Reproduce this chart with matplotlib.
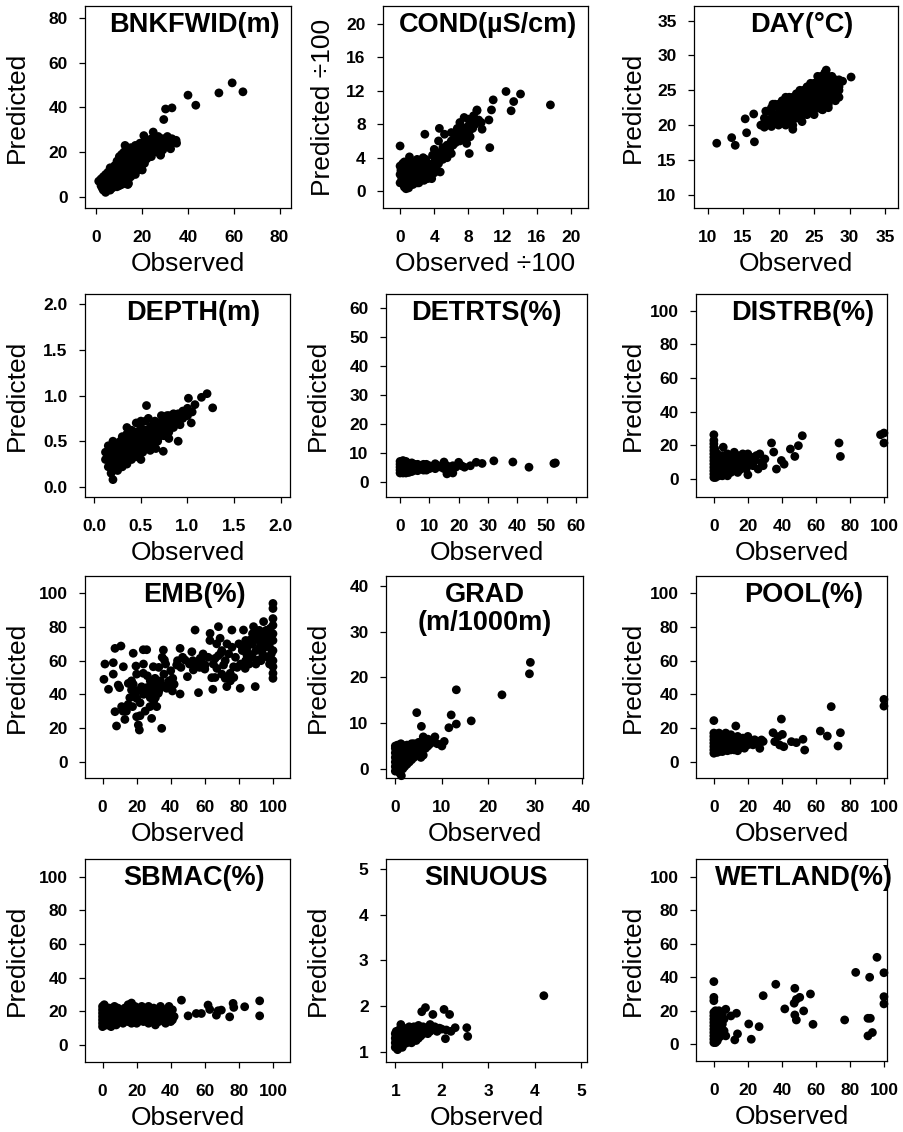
import numpy as np
import matplotlib.pyplot as plt

plt.rcParams['font.family'] = ['Liberation Sans', 'DejaVu Sans']

# observed / predicted pairs, one list per variable
bnkfwid = [(1,7),(2,5),(2,8),(3,3),(3,6),(3,9),(4,2),(4,5),(4,7),(4,10),(5,4),(5,6),(5,8),(5,11),
           (6,3),(6,6),(6,9),(6,13),(7,4),(7,7),(7,10),(7,12),(8,5),(8,8),(8,11),(8,14),(9,6),(9,9),
           (9,13),(9,16),(10,5),(10,8),(10,11),(10,15),(10,18),(11,7),(11,10),(11,13),(11,17),(12,6),
           (12,9),(12,12),(12,16),(12,20),(13,8),(13,11),(13,14),(13,18),(13,21),(14,6),(14,10),
           (14,13),(14,16),(14,19),(15,9),(15,12),(15,15),(15,18),(15,22),(16,11),(16,14),(16,17),
           (16,20),(17,10),(17,13),(17,16),(17,19),(17,23),(18,12),(18,15),(18,18),(18,21),(19,14),
           (19,17),(19,20),(19,24),(20,12),(20,16),(20,19),(20,22),(21,15),(21,18),(21,21),(21,25),
           (22,17),(22,20),(22,23),(23,19),(23,22),(24,18),(24,21),(24,26),(25,20),(25,23),(26,22),
           (26,25),(27,20),(27,24),(28,19),(28,22),(29,23),(29,26),(30,25),(31,27),(32,24),(33,26),
           (34,25),(35,24),(20.7,27.4),(24.8,29),(28,18.6),(32.4,21.5),(34.8,25.3),(29.4,34.6),
           (30.2,39.3),(33,39.8),(40,45.5),(43.4,41),(53.5,46.5),(59.3,51),(64,47),(13.7,5.5),
           (19.8,12.2),(12.5,23),
           (2.5,4),(3.5,4.5),(4.5,3.5),(5.5,7),(6.5,5),(7.5,8.5),(8.5,6.5),(9.5,11),(10.5,9.5),
           (11.5,12),(12.5,14),(13.5,16),(14.5,12),(15.5,17),(16.5,15),(17.5,18),(18.5,20),(19.5,16),
           (20.5,21),(21.5,19),(22.5,22),(23.5,20),(24.5,24),(25.5,22),(26.5,24),(27.5,22),(29,21),
           (30,23),(31,25),(6,10.5),(8,12.5),(10,13),(11,19),(13,16),(15,20),(17,21),(19,22),
           (16,12.5),(18,13.5),(9,4.5),(11,5.5),(12,10.5),(14,8),(7,5.5),(5,3),(3,4.5),(23,24),
           (25,25),(27,27),(22,25),(21,23.5)]

cond = [(0,1),(0,2),(0,3),(0.2,1.5),(0.2,2.5),(0.3,3.3),(0.5,0.5),(0.5,1.5),(0.5,2.5),(0.5,3.5),
        (0.7,0.3),(0.8,1),(0.8,2),(0.8,3),(1,0.8),(1,1.6),(1,2.4),(1,3.2),(1.2,1.2),(1.3,2),(1.3,2.8),
        (1.5,0.8),(1.5,1.6),(1.5,2.4),(1.6,3.4),(1.8,1.2),(1.8,2),(1.8,3),(2,1.5),(2,2.5),(2,3.8),
        (2.2,1),(2.3,2),(2.3,3),(2.5,1.6),(2.5,2.6),(2.6,3.6),(2.8,1.3),(2.8,2.2),(3,1.8),(3,2.9),
        (3,3.8),(3.2,1.5),(3.3,2.5),(3.5,2),(3.5,3.2),(3.7,1.5),(3.8,2.6),(4,2.2),(4,3.5),(4,5),
        (4.2,4.2),(4.3,2.5),(4.5,3.3),(4.5,6),(4.7,2.3),(4.8,4),(5,3.8),(5,5.2),(5.2,4.5),(5.5,4),
        (5.5,5.5),(5.8,5),(6,4.5),(6,6),(6,7),(6.2,5.5),(6.5,5.8),(6.5,6.8),(6.7,7.5),(7,6),(7,7),
        (7,8.2),(7.2,6.5),(7.3,7.6),(7.5,8.8),(7.5,6.2),(7.8,7),(8,7.8),(8,8.6),(8.2,6.5),(8.3,8.2),
        (8.5,7.5),(8.6,9),(8.8,8),(9,9.6),(9.2,8.5),(9.5,8.2),(7.8,5.7),(5.2,6.8),(3.8,4.3),
        (2.7,4.0),(1.1,4.1),(17.6,10.3),(14.1,11.6),(12.4,11.9),(13.3,10.7),(13,9.6),(10.9,10.9),
        (10.7,9.7),(10.4,8.5),(10.5,5.2),(8.1,4.5),(9,9.7),(2.9,6.8),(4.6,7.5),(0,5.4),(9.6,7.4),
        (0.3,1),(0.3,2),(0.6,1.2),(0.6,2.2),(0.6,3),(0.9,1.4),(0.9,2.6),(1.1,1),(1.2,2.2),(1.4,1.4),
        (1.4,3),(1.6,1.2),(1.7,2.6),(1.9,1.8),(2.1,2.2),(2.1,3.2),(2.4,1.4),(2.4,2.4),(2.7,1.8),
        (2.7,3),(2.9,2.5),(3.1,2.2),(3.4,2.8),(3.6,1.8),(3.9,3),(4.2,2.8),(4.4,3.8),(4.6,4.6),
        (5,4.4),(5.3,5),(5.7,4.6),(6.3,6.2),(6.8,6.3),(7.2,7.2),(7.6,7.4),(8.1,7.2),(8.4,7.9),
        (0.1,2.5),(0.4,2.8),(1.2,3.6),(2,1),(1,0.4)]

day = [(17.5,20),(18,19.7),(18,21),(18.5,22),(19,19.8),(19,21),(19,22.5),(19.5,20.2),(19.5,23),
       (20,20.5),(20,21.5),(20,22.5),(20.5,21),(20.5,22),(20.5,23.5),(21,20.5),(21,22),(21,23),
       (21,24),(21.5,21),(21.5,22.5),(21.5,23.5),(22,20),(22,21.5),(22,22.5),(22,24),(22.5,21),
       (22.5,23),(22.5,24.5),(23,21.5),(23,22.5),(23,23.5),(23,25),(23.5,22),(23.5,23.5),
       (23.5,24.5),(24,22),(24,23),(24,24),(24,25.5),(24.5,22.5),(24.5,24),(24.5,25),(25,21.5),
       (25,23),(25,24.5),(25,26),(25.5,22.5),(25.5,24),(25.5,25.5),(25.5,27),(26,22.3),(26,23.5),
       (26,25),(26,26.5),(26.5,24),(26.5,25.5),(26.5,27.5),(27,23),(27,24.5),(27,26),(27.5,24),
       (27.5,25.5),(27.5,27),(28,23.5),(28,25),(28,26.5),(28.5,25),(28.5,26.5),(29,26.3),
       (18.2,22),(19.2,23),(21.3,20.2),(23.3,20.5),(24.8,22),(26.2,22.2),(11.3,17.4),(13.4,18.2),
       (13.9,17.1),(16.6,17.6),(15.5,18.9),(15.3,20.9),(16.5,21.6),(22,19.4),(30.2,26.9),(26.7,27.9),
       (19,20.5),(19.5,21.5),(20,21),(20,23),(20.5,20.5),(20.5,22.5),(21,21.5),(21,22.5),(21.5,22),
       (21.5,24),(22,21),(22,23),(22,23.5),(22.5,22),(22.5,22.5),(22.5,23.5),(23,22),(23,23),(23,24),
       (23,24.5),(23.5,21.5),(23.5,23),(23.5,24),(23.5,25),(24,22.5),(24,23.5),(24,24.5),(24,25),
       (24.5,23),(24.5,23.5),(24.5,24.5),(24.5,26),(25,22.5),(25,23.5),(25,24),(25,25),(25,25.5),
       (25.5,23),(25.5,23.5),(25.5,24.5),(25.5,25),(25.5,26),(26,24),(26,24.5),(26,25.5),(26,26),
       (26,27),(26.5,23),(26.5,24.5),(26.5,25),(26.5,26),(26.5,26.5),(27,24),(27,25),(27,25.5),
       (27,26.5),(27,27),(27.5,24.5),(27.5,25),(27.5,26),(28,24),(28,25.5),(28,26),(28.5,24),
       (28.5,25.5),(18.5,20.5),(18,20.3),(19,22),(20,20),(21,20),(22,22),(24,21.5),(26,23),(27,22.5)]

depth = [(0.12,0.3),(0.12,0.38),(0.15,0.22),(0.15,0.35),(0.15,0.45),(0.18,0.15),(0.18,0.28),
         (0.2,0.4),(0.2,0.5),(0.22,0.22),(0.22,0.33),(0.25,0.18),(0.25,0.28),(0.25,0.38),
         (0.25,0.48),(0.28,0.3),(0.28,0.42),(0.3,0.22),(0.3,0.35),(0.3,0.45),(0.3,0.55),(0.33,0.3),
         (0.33,0.4),(0.35,0.25),(0.35,0.36),(0.35,0.48),(0.35,0.58),(0.38,0.33),(0.38,0.44),
         (0.4,0.3),(0.4,0.4),(0.4,0.5),(0.4,0.62),(0.42,0.36),(0.43,0.46),(0.45,0.33),(0.45,0.42),
         (0.45,0.55),(0.45,0.7),(0.48,0.4),(0.48,0.5),(0.5,0.3),(0.5,0.45),(0.5,0.55),(0.5,0.65),
         (0.52,0.38),(0.53,0.5),(0.55,0.45),(0.55,0.58),(0.55,0.72),(0.58,0.5),(0.6,0.4),(0.6,0.55),
         (0.6,0.65),(0.62,0.48),(0.65,0.55),(0.65,0.62),(0.65,0.72),(0.68,0.5),(0.7,0.6),(0.7,0.7),
         (0.72,0.78),(0.75,0.56),(0.75,0.65),(0.78,0.72),(0.8,0.6),(0.8,0.68),(0.8,0.78),(0.85,0.65),
         (0.85,0.75),(0.88,0.72),(0.9,0.8),(0.92,0.68),(0.95,0.75),(0.95,0.83),(1.0,0.78),(1.0,0.86),
         (1.05,0.82),(1.08,0.9),(1.27,0.865),(1.21,1.02),(1.15,0.98),(1.01,0.97),(0.56,0.89),
         (0.2,0.08),(0.74,0.39),(0.66,0.42),(0.9,0.5),(0.8,0.53),(1.04,0.7),
         (0.15,0.3),(0.18,0.4),(0.2,0.3),(0.22,0.45),(0.25,0.33),(0.25,0.43),(0.28,0.35),(0.28,0.5),
         (0.3,0.28),(0.3,0.4),(0.3,0.5),(0.33,0.35),(0.33,0.45),(0.33,0.52),(0.35,0.3),(0.35,0.42),
         (0.35,0.53),(0.38,0.38),(0.38,0.5),(0.4,0.35),(0.4,0.45),(0.4,0.55),(0.42,0.42),(0.42,0.5),
         (0.45,0.38),(0.45,0.48),(0.45,0.6),(0.48,0.45),(0.48,0.55),(0.5,0.4),(0.5,0.5),(0.5,0.6),
         (0.52,0.45),(0.53,0.55),(0.55,0.5),(0.55,0.62),(0.58,0.45),(0.58,0.57),(0.6,0.5),(0.6,0.6),
         (0.62,0.55),(0.63,0.68),(0.65,0.5),(0.68,0.6),(0.68,0.68),(0.7,0.55),(0.72,0.65),(0.75,0.7),
         (0.78,0.62),(0.78,0.78),(0.82,0.7),(0.85,0.8),(0.9,0.72),(0.92,0.78),(0.98,0.8),(0.35,0.65),
         (0.42,0.6),(0.5,0.72),(0.58,0.75)]

detrts = [(0,3),(0,4),(0,5),(0,6),(0,7),(0.5,3.5),(0.5,4.5),(0.5,5.5),(0.5,6.5),(1,3),(1,4),(1,5),
          (1,6),(1,7.3),(1.5,3.5),(1.5,4.5),(1.5,5.5),(1.5,6.5),(2,3),(2,4),(2,5),(2,6),(2,7),
          (2.5,4.5),(2.5,5.5),(3,3.2),(3,4.2),(3,5.2),(3,6.2),(3.5,5),(4,3.5),(4,4.5),(4,5.5),(4,6.5),
          (5,4),(5,5),(5,6),(6,3.8),(6,5),(6,6),(7,4.5),(7,5.5),(8,4),(8,5),(8,6),(9,5),(10,4.5),
          (10,5.5),(11,5),(12,4.5),(13,5.5),(14,5),(15,4.5),(16,5.5),(17,4.5),(18,5.5),(19,5),
          (21,5.5),(22,5),(32,7.2),(38.5,6.8),(44,5),(53,6.5),(52.5,6.3),(28,6.3),(24,5.5),(26,6.7),
          (16,2.7),(18,3),(20,6.7),(15,6.8),(12,6.2),
          (0.2,4),(0.2,6),(0.8,3.5),(0.8,5.5),(1.2,4.5),(1.2,6.5),(1.8,4),(1.8,6),(2.5,3.5),(2.5,6.5),
          (3.5,4),(3.5,6),(4.5,5),(5.5,4.5),(5.5,5.5),(6.5,4.5),(7.5,5),(9,4),(9,6)]

distrb = [(0,1),(0,3),(0,5),(0,7),(0,9),(0,11),(0,13),(0,15),(0,17),(0,19),(0,21),(0,23),(0.5,2),
          (0.5,6),(0.5,10),(0.5,14),(0.5,18),(1,1),(1,4),(1,8),(1,12),(1,16),(1.5,2),(1.5,6),
          (1.5,10),(2,3),(2,7),(2,11),(2,15),(3,2),(3,5),(3,9),(3,13),(4,3),(4,7),(4,11),(5,2),(5,5),
          (5,9),(5,14),(6,3),(6,7),(6,12),(7,4),(7,9),(8,2),(8,6),(8,11),(8,15),(9,8),(10,4),(10,10),
          (10,14),(11,6),(12,12),(12,16),(13,9),(14,4),(14,14),(15,11),(16,8),(17,15),(18,12),(19,6),
          (20,10),(20,15),(22,13),(23,8),(24,11),(25,14),(26,6),(27,15),(28,10),(30,12),(29,8),
          (33.9,21.5),(35.2,16.1),(52,25.8),(49.7,19.9),(45,17.9),(47.6,13.5),(39.7,11.1),(41.3,8.9),
          (36.8,6),(73.6,21.5),(74.4,13.5),(100,27.4),(98,26.4),(100,21.5),(20,2.6),(15.3,5.6),
          (5.5,19),(0,26.4)]

emb = [(0.8,48.9),(1.4,58),(3.5,43),(7.3,67.3),(6.3,58.8),(6.3,52),(10.8,68.7),(8.2,21.2),(7.3,29.7),
       (9.2,45.5),(11.2,32.7),(13.1,25.1),(12.2,56.4),(15.1,46.5),(17,42.6),(17.6,32.7),(20,37.6),
       (18,64.4),(19.6,56.8),(20,26.7),(21,21.8),(21.6,18.8),(22,27.3),(22.9,44.5),(23.9,52.5),
       (23.9,66.5),(25.9,66.5),(26.3,51),(27.8,32.7),(28.8,25.7),(29.8,56.4),(30.8,49.5),(31.8,32.7),
       (32.7,40.6),(34.7,19.8),(35.7,66.3),(36.3,60.4),(37.6,43.6),(39.6,46.5),(41.2,49.5),
       (43.5,57.4),(45.5,67.3),(45.5,40.2),(48.4,60.4),(49.8,50.5),(52.4,65.3),(54.3,78.2),
       (53.3,54.5),(56.3,41),(57.3,61.4),(60.2,57.4),(63.1,76.2),(64.1,49.9),(64.7,43),(66.1,61.4),
       (67.1,55.4),(68,80.2),(69,73.3),(69.4,64.4),(71,57.4),(72,49.5),(72.9,44.6),(74.9,52.5),
       (75.9,78.2),(76.9,56.4),(80.8,43.6),(81.8,68.3),(82.7,78.2),(83.7,55.4),(84.7,63.4),
       (86.7,72.3),(88.6,80.2),(89.6,44.6),(90.6,74.3),(91.6,60.4),(92.5,68.3),(94.5,83.2),
       (96.5,74.3),(98.4,79.2),(100,94),(100,91),(100,85),(100,81),(100,76),(100,72),(100,66),
       (100,60),(100,56.4),(100,52.5),(100,49.5),
       (14,30),(16,38),(18,46),(20,42),(22,35),(24,40),(26,44),(28,38),(30,42),(32,46),(34,48),
       (36,52),(38,44),(40,54),(42,46),(44,60),(33,56),(35,62),(37,58),(20,52),(24,58),(15,34),
       (25,30),(28,48),(31,38),(19,40),(23,44),(27,42),(29,46),(33,42),(36,45),(39,48),(41,42),
       (46,56),(47,62),(30,36),(12,30),(10,44),(17,48),
       (55,58),(58,60),(60,55),(62,62),(65,58),(68,63),(70,66),(72,60),(74,64),(76,68),(78,62),
       (80,70),(82,66),(84,72),(86,64),(88,70),(90,66),(92,72),(94,64),(96,70),(98,68),(86,58),
       (88,62),(90,76),(92,78),(94,74),(96,78),(97,62),(98,58),(79,56),(75,48),(84,60),(90,58),
       (93,60),(66,50),(70,52),(77,50),(81,58),(95,68),(99,72),(99,64),(88,76),(85,68),(73,70),
       (67,70),(63,72),(59,64),(57,56),(53,60),(51,58)]

grad = [(0,-0.5),(0,0.5),(0,1.5),(0,2.5),(0,3.5),(0,4.5),(0.3,0),(0.3,1),(0.3,2),(0.3,3),(0.3,4),
        (0.3,5),(0.6,-0.5),(0.6,0.5),(0.6,1.5),(0.6,2.5),(0.6,3.5),(0.6,4.5),(1,-1),(1,0),(1,1),(1,2),
        (1,3),(1,4),(1,5),(1.3,-1.5),(1.3,0.5),(1.3,1.5),(1.3,2.5),(1.3,3.5),(1.6,0),(1.6,1),(1.6,2),
        (1.6,3),(1.6,4.5),(2,0.5),(2,1.5),(2,2.5),(2,3.5),(2,5),(2.5,1),(2.5,2),(2.5,3),(2.5,4),
        (2.5,5.2),(3,1.5),(3,2.5),(3,3.5),(3,4.5),(3.5,2),(3.5,3),(3.5,5.5),(4,2.5),(4,4),(4,5.5),
        (4.5,3),(4.5,5),(5,3.5),(5,5.8),(5.5,2.5),(5.5,4.5),(6,3),(6,5.5),(6,7),(6.5,4.5),(7,5),
        (7,6.5),(7.5,5.5),(8,6),(8.5,7),(9,5.5),(10,5),(10.5,6),(29,23.3),(28.8,20.8),(22.9,16.2),
        (13.1,17.3),(12,11.8),(11.5,9),(13.1,9.8),(16.3,10.5),(4.6,12.3),(5.6,9.3),
        (0.2,0.5),(0.2,2.5),(0.5,1),(0.5,3),(0.8,0),(0.8,2),(0.8,4),(1.1,1.5),(1.1,3.5),(1.5,0.5),
        (1.5,2.5),(1.8,1.5),(1.8,3.5),(2.2,2),(2.2,4),(2.8,2),(2.8,4),(3.2,3),(3.8,3.5),(4.2,4.5),
        (0,5),(0.5,5.2),(1.2,5.5),(2,4.2)]

pool = [(0,5),(0,7),(0,9),(0,11),(0,13),(0,15),(0,17),(1,6),(1,8),(1,10),(1,12),(1,14),(1,16),
        (2,5.5),(2,7.5),(2,9.5),(2,11.5),(2,13.5),(3,6),(3,8),(3,10),(3,12),(3,14),(3,17),(4,7),(4,9),
        (4,11),(4,13),(5,6),(5,8),(5,10),(5,12),(5,15),(6,7),(6,9),(6,11),(6,13),(7,8),(7,10),(7,12),
        (7,17),(8,6.5),(8,9),(8,11),(8,14),(9,8),(9,10),(9,12),(10,7),(10,9.5),(10,12),(10,16),(11,8),
        (11,11),(11,14),(12,7),(12,10),(12,13),(13,9),(13,12),(14,6.5),(14,11),(14,15),(15,8),(15,10),
        (15,13),(16,9),(16,12),(17,10),(17,14),(18,8),(18,11),(19,12),(20,10),(20,15),(21,11),(22,12),
        (23,10),(24,13),(25,11),(26,12),(29,12),(100,37),(100,33),(69,32.7),(39.7,25.3),(0,24.4),
        (12.9,21.2),(62.6,18.2),(66.7,15.2),(74.4,17.2),(73,9.3),(53.4,6.9),(52.4,13.3),(45.6,11.9),
        (48.5,11.3),(34.8,17.2),(37.8,14.9),(40.3,16.2),(38.7,9.9),(41.1,8.9),(35.8,11.9),(28,12.9),
        (27,7.9),(0.5,6),(0.5,10),(0.5,14),(1.5,7),(1.5,11),(1.5,15),(2.5,9),(2.5,13),(3.5,11),
        (4.5,8),(4.5,12),(5.5,9),(5.5,11),(6.5,10),(7.5,9),(8.5,12),(9.5,11)]

sbmac = [(0,11),(0,13),(0,15),(0,17),(0,19),(0,21),(0,23),(1,12),(1,16),(1,20),(1,24),(2,14),(2,18),
         (2,22),(3,12),(3,16),(3,20),(4,14),(4,18),(4,22),(5,11),(5,15),(5,19),(6,13),(6,17),(6,21),
         (7,15),(7,19),(7,23),(8,12),(8,16),(8,20),(9,18),(9,22),(10,14),(10,20),(11,16),(12,19),
         (12,13),(13,22),(14,16),(14,20),(15,24),(15,14),(16,18),(16,22),(17,13),(17,25),(18,17),
         (18,21),(19,15),(19,23),(20,19),(20,13),(21,17),(21,22),(22,20),(22,15),(23,23),(24,18),
         (24,14),(25,21),(25,16),(26,19),(27,13),(27,23),(28,17),(29,20),(29,15),(30,22),(31,12),
         (31,18),(32,16),(33,20),(33,14),(34,23),(35,18),(35,15),(36,21),(37,17),(37,13),(38,20),
         (39,16),(39,23),(40,18),(40,14),(41,21),(42,17),(41,15),(46.3,26.7),(50.2,17.4),(55,18.8),
         (58,18.8),(61.9,23.8),(62.9,21.2),(66.8,17.8),(67.8,20.4),(69.7,20.8),(74.6,16.8),
         (76.6,24.8),(77,22.4),(83.4,22.8),(92.2,26.3),(92.2,17.4),
         (0.5,14),(0.5,18),(0.5,22),(2,12),(2,16),(2,20),(3,14),(3,18),(3,22),(4,12),(4,16),(4,20),
         (5,13),(5,17),(5,21),(6,15),(6,19),(7,13),(7,17),(7,21),(8,14),(8,18),(8,22),(9,16),(9,20),
         (10,16),(10,18),(11,14),(11,20),(12,17),(13,15),(13,19),(14,18),(15,16),(15,20),(16,15),
         (16,20),(17,18),(18,14),(18,19),(19,18),(20,16),(20,21),(21,14),(22,18),(23,16),(23,20),
         (24,21),(25,18),(26,15),(26,22),(27,18),(28,20),(30,16),(30,19),(32,21),(34,17),(36,18),
         (38,15),(38,18),(40,21)]

sinuous = [(1,1.1),(1,1.2),(1,1.3),(1,1.4),(1.02,1.15),(1.02,1.25),(1.02,1.35),(1.02,1.45),
           (1.05,1.05),(1.05,1.2),(1.05,1.3),(1.05,1.4),(1.08,1.1),(1.08,1.25),(1.08,1.35),(1.08,1.48),
           (1.1,1.15),(1.1,1.3),(1.1,1.42),(1.12,1.2),(1.12,1.35),(1.12,1.6),(1.15,1.1),(1.15,1.25),
           (1.15,1.4),(1.15,1.5),(1.2,1.18),(1.2,1.3),(1.2,1.45),(1.25,1.2),(1.25,1.35),(1.25,1.5),
           (1.3,1.25),(1.3,1.4),(1.3,1.55),(1.35,1.2),(1.35,1.35),(1.35,1.48),(1.4,1.3),(1.4,1.42),
           (1.45,1.25),(1.45,1.38),(1.45,1.5),(1.5,1.3),(1.5,1.45),(1.5,1.58),(1.55,1.35),(1.55,1.5),
           (1.6,1.4),(1.6,1.55),(1.65,1.45),(1.7,1.4),(1.7,1.52),(1.75,1.6),(1.75,1.45),(1.8,1.5),
           (1.85,1.55),(1.9,1.45),(1.95,1.52),(2,1.5),(2.1,1.48),(2.2,1.45),(4.2,2.23),(1.57,1.88),
           (1.65,1.97),(1.81,1.82),(2.05,1.93),(2.17,1.82),(2.54,1.53),(2.56,1.34),(2.29,1.53),
           (2.08,1.29),(1.03,1.2),(1.06,1.35),(1.1,1.22),(1.13,1.28),(1.18,1.35),(1.22,1.25),
           (1.28,1.3),(1.32,1.45),(1.38,1.4),(1.42,1.35),(1.48,1.4),(1.52,1.42),(1.58,1.45),
           (1.62,1.48),(1.68,1.5),(1.78,1.52),(1.88,1.5),(1.18,1.52),(1.4,1.55)]

wetland = [(0,1),(0,3),(0,5),(0,7),(0,9),(0,11),(0,13),(0,15),(0,17),(0,19),(0.5,2),(0.5,6),(0.5,10),
           (0.5,14),(0.5,18),(1,1),(1,4),(1,8),(1,12),(1,16),(1,20),(1.5,3),(1.5,7),(1.5,11),(1.5,15),
           (2,2),(2,6),(2,10),(2,14),(2,18),(3,4),(3,8),(3,12),(3,16),(3,20),(4,5),(4,10),(4,15),(5,6),
           (5,12),(5,18),(6,8),(6,15),(7,5),(0,37.4),(0,28),(0,26),(7,20.9),(10,16.9),(13.3,18.5),
           (12.3,2.6),(13.9,6.2),(20.5,12.1),(22,3),(26.6,10.5),(29,29),(36.4,35.8),(41.7,21.1),
           (47.6,33.4),(47.2,24.5),(48.5,26.8),(47.6,17.5),(48.5,14.5),(50.5,28),(52.8,19.9),
           (56.8,30),(58.3,11.9),(76.9,14.5),(83.4,42.9),(91.6,40),(90.6,15.5),(92,15.5),(90.6,5),
           (93.2,7),(95.9,51.9),(100,42.7),(100,28.4),(100,24.1)]

datasets = [bnkfwid, cond, day, depth, detrts, distrb, emb, grad, pool, sbmac, sinuous, wetland]
titles = ['BNKFWID(m)', 'COND(\u00b5S/cm)', 'DAY(\u00b0C)', 'DEPTH(m)', 'DETRTS(%)', 'DISTRB(%)',
          'EMB(%)', 'GRAD\n(m/1000m)', 'POOL(%)', 'SBMAC(%)', 'SINUOUS', 'WETLAND(%)']
xlabels = ['Observed', 'Observed \u00f7100'] + ['Observed'] * 10
ylabels = ['Predicted', 'Predicted \u00f7100'] + ['Predicted'] * 10
ticks = [[0, 20, 40, 60, 80], [0, 4, 8, 12, 16, 20], [10, 15, 20, 25, 30, 35],
         [0.0, 0.5, 1.0, 1.5, 2.0], [0, 10, 20, 30, 40, 50, 60], [0, 20, 40, 60, 80, 100],
         [0, 20, 40, 60, 80, 100], [0, 10, 20, 30, 40], [0, 20, 40, 60, 80, 100],
         [0, 20, 40, 60, 80, 100], [1, 2, 3, 4, 5], [0, 20, 40, 60, 80, 100]]
xlims = [(-5, 85), (-2, 22), (8.1, 36.8), (-0.1, 2.1), (-4.8, 63.8), (-10.5, 101.8),
         (-10.3, 110), (-2, 40.3), (-10.5, 101.8), (-10.3, 110), (0.8, 5.13), (-10.5, 101.8)]
ylims = [(-5, 85.4), (-2, 22.1), (8.1, 37.1), (-0.11, 2.11), (-5.3, 64.9), (-10.6, 110),
         (-9.7, 110.3), (-2, 42.2), (-9.7, 110.3), (-10, 110.5), (0.78, 5.22), (-10, 110.6)]

# axes boxes in pixels: left, top, right, bottom
boxes = [(85, 6, 291, 208), (383, 6, 588, 208), (694, 6, 898, 208),
         (85, 294, 290, 497), (386, 294, 587, 497), (696, 294, 887, 497),
         (85, 576, 290, 778), (386, 576, 583, 778), (696, 576, 887, 778),
         (85, 859, 290, 1062), (386, 859, 587, 1062), (696, 859, 887, 1061)]
title_x = [0.53, 0.51, 0.53, 0.53, 0.50, 0.56, 0.535, 0.50, 0.566, 0.532, 0.50, 0.565]
ylab_gap = [68, 60, 61, 68, 68, 63, 68, 68, 63, 68, 68, 63]

W, H = 904, 1132
fig = plt.figure(figsize=(W / 100, H / 100), dpi=100)

for i, pts in enumerate(datasets):
    l, t, r, b = boxes[i]
    w, h = r - l, b - t
    ax = fig.add_axes([l / W, 1 - b / H, w / W, h / H])
    obs, pred = np.array(pts).T
    ax.scatter(obs, pred, s=40, color='black', edgecolors='none', clip_on=False)
    ax.set_xlim(xlims[i])
    ax.set_ylim(ylims[i])
    labs = ['%.1f' % v for v in ticks[i]] if i == 3 else [str(v) for v in ticks[i]]
    ax.set_xticks(ticks[i], labs)
    ax.set_yticks(ticks[i], labs)
    ax.tick_params(direction='out', length=4, width=0.9, labelsize=12.5)
    ax.tick_params(axis='x', pad=12)
    ax.tick_params(axis='y', pad=8.5)
    for lab in ax.get_xticklabels() + ax.get_yticklabels():
        lab.set_fontweight('bold')
    for sp in ax.spines.values():
        sp.set_linewidth(0.9)
    ax.set_xlabel(xlabels[i], fontsize=19)
    ax.set_ylabel(ylabels[i], fontsize=19)
    ax.xaxis.set_label_coords(0.5, -56 / h)
    ax.xaxis.label.set_verticalalignment('center')
    ax.yaxis.set_label_coords(-ylab_gap[i] / w, 0.5)
    ax.yaxis.label.set_verticalalignment('center')
    ax.text(title_x[i], 1 - 6 / h, titles[i], transform=ax.transAxes, ha='center', va='top',
            fontsize=19.5, fontweight='bold', linespacing=1.1)

fig.savefig('out.png', dpi=100)
